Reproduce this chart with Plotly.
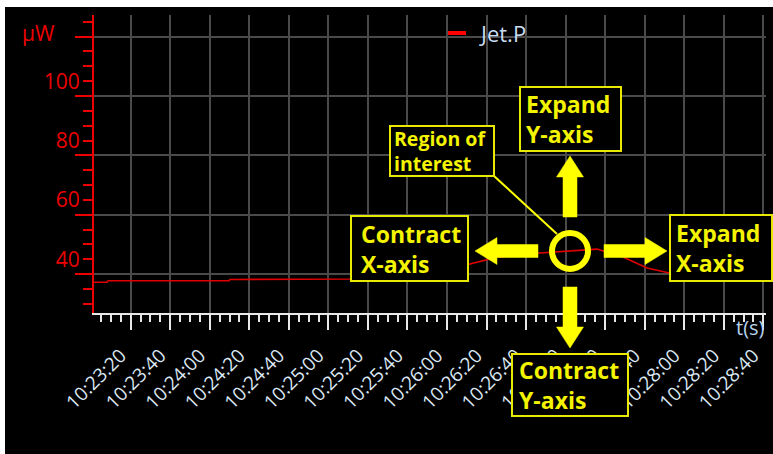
import plotly.graph_objects as go

# ---- data -------------------------------------------------------------
DAY = "2015-06-18 "

sample_times = [
    "10:23:06.4", "10:23:13.0", "10:23:13.5", "10:24:14.7", "10:24:15.2",
    "10:25:15.9", "10:25:40.0", "10:26:00.0", "10:26:16.6", "10:26:30.3",
    "10:26:52.0", "10:27:07.2", "10:27:20.9", "10:27:34.0", "10:27:46.2",
    "10:27:56.3", "10:28:13.0", "10:28:46.4",
]
jet_p_uw = [
    32.2, 32.2, 32.75, 32.75, 33.15,
    33.3, 33.8, 35.5, 38.4, 40.7,
    42.1, 42.9, 43.4, 40.7, 37.0,
    35.5, 34.8, 34.6,
]

time_labels = [
    "10:23:20", "10:23:40", "10:24:00", "10:24:20", "10:24:40", "10:25:00",
    "10:25:20", "10:25:40", "10:26:00", "10:26:20", "10:26:40", "10:27:00",
    "10:27:20", "10:27:40", "10:28:00", "10:28:20", "10:28:40",
]
power_labels = [40, 60, 80, 100]

x_range = [DAY + "10:23:06.44", DAY + "10:28:46.34"]
y_range = [21.86, 122.3]

# ---- geometry helpers (pixel -> paper) ---------------------------------
W, H = 773, 454
L, R, T, B = 94, 766, 15, 313


def fx(x):
    return (x - L) / (R - L)


def fy(y):
    return (B - y) / (B - T)


RED = "#ec0000"
GRID = "#4a4a4a"
LIGHT = "#dce8f5"
YEL = "#ffff00"
FONT = "Open Sans"

fig = go.Figure()
fig.add_trace(go.Scatter(
    x=[DAY + t for t in sample_times], y=jet_p_uw, mode="lines",
    name="Jet.P", line=dict(color="#e00000", width=1.6), showlegend=False,
))
# empty trace so the overlaid label axes get their own subplot
fig.add_trace(go.Scatter(x=[], y=[], xaxis="x2", yaxis="y2", showlegend=False))

fig.update_layout(
    width=W, height=H,
    margin=dict(l=L, r=W - R, t=T, b=H - B, pad=0),
    paper_bgcolor="black", plot_bgcolor="black",
    showlegend=False,
    xaxis=dict(
        type="date", range=x_range, tickmode="linear",
        tick0=DAY + "10:23:25", dtick=20000,
        ticks="outside", ticklen=15, tickwidth=2, tickcolor="#e8e8e8",
        showgrid=True, gridcolor=GRID, gridwidth=1.5,
        showticklabels=False, showline=True, linecolor="#e8e8e8", linewidth=2,
        zeroline=False,
        minor=dict(tick0=DAY + "10:23:25", dtick=5000, ticks="outside",
                   ticklen=7, tickwidth=2, tickcolor="#e8e8e8", showgrid=False),
    ),
    xaxis2=dict(
        type="date", range=x_range, overlaying="x", anchor="y", side="bottom",
        tickmode="array", tickvals=[DAY + t for t in time_labels],
        ticktext=time_labels, tickangle=-45,
        ticks="outside", ticklen=23, tickcolor="rgba(0,0,0,0)",
        tickfont=dict(family=FONT, size=19, color=LIGHT),
        showgrid=False, showline=False, zeroline=False,
    ),
    yaxis=dict(
        range=y_range, tickmode="linear", tick0=35, dtick=20,
        ticks="outside", ticklen=17, tickwidth=2, tickcolor=RED,
        showgrid=True, gridcolor=GRID, gridwidth=1.5,
        showticklabels=False, showline=True, linecolor=RED, linewidth=2,
        zeroline=False,
        minor=dict(tick0=35, dtick=5, ticks="outside", ticklen=9,
                   tickwidth=2, tickcolor=RED, showgrid=False),
    ),
    yaxis2=dict(
        range=y_range, overlaying="y", anchor="x", side="left",
        tickmode="array", tickvals=power_labels,
        ticktext=[str(v) for v in power_labels],
        ticks="outside", ticklen=9, tickcolor="rgba(0,0,0,0)",
        tickfont=dict(family=FONT, size=21, color=RED),
        showgrid=False, showline=False, zeroline=False,
    ),
)

shapes = []
# white frame strips along the left and top edges
shapes.append(dict(type="rect", xref="paper", yref="paper",
                   x0=fx(-2), x1=fx(5), y0=fy(H + 2), y1=fy(-2),
                   fillcolor="white", line_width=0))
shapes.append(dict(type="rect", xref="paper", yref="paper",
                   x0=fx(-2), x1=fx(W + 2), y0=fy(7), y1=fy(-2),
                   fillcolor="white", line_width=0))

# legend swatch
shapes.append(dict(type="line", xref="paper", yref="paper",
                   x0=fx(448), x1=fx(466), y0=fy(33), y1=fy(33),
                   line=dict(color="#ff0000", width=4)))


def poly(points):
    path = "M " + " L ".join(f"{fx(x):.5f},{fy(y):.5f}" for x, y in points) + " Z"
    return dict(type="path", xref="paper", yref="paper", path=path,
                fillcolor=YEL, line=dict(color=YEL, width=0.5))


cx, cy = 570, 251
# left, right, up, down arrows around the circle
shapes.append(poly([(538, cy - 6.5), (497, cy - 6.5), (497, cy - 13.5), (475, cy),
                    (497, cy + 13.5), (497, cy + 6.5), (538, cy + 6.5)]))
shapes.append(poly([(604, cy - 6.5), (645, cy - 6.5), (645, cy - 13.5), (667, cy),
                    (645, cy + 13.5), (645, cy + 6.5), (604, cy + 6.5)]))
shapes.append(poly([(cx - 7, 217), (cx - 7, 177), (cx - 13.5, 177), (cx, 156),
                    (cx + 13.5, 177), (cx + 7, 177), (cx + 7, 217)]))
shapes.append(poly([(cx - 7, 287), (cx - 7, 327), (cx - 13.5, 327), (cx, 348),
                    (cx + 13.5, 327), (cx + 7, 327), (cx + 7, 287)]))

# ring marking the region of interest
shapes.append(dict(type="circle", xref="paper", yref="paper",
                   x0=fx(cx - 18), x1=fx(cx + 18), y0=fy(cy + 18), y1=fy(cy - 18),
                   line=dict(color=YEL, width=6)))
# leader line from the callout to the ring
shapes.append(dict(type="line", xref="paper", yref="paper",
                   x0=fx(494), y0=fy(176), x1=fx(557), y1=fy(234),
                   line=dict(color=YEL, width=2)))

annotations = []


def callout(x0, y0, x1, y1, text, size, tx):
    shapes.append(dict(type="rect", xref="paper", yref="paper",
                       x0=fx(x0), x1=fx(x1), y0=fy(y1), y1=fy(y0),
                       fillcolor="black", line=dict(color="#e8e800", width=2)))
    annotations.append(dict(
        xref="paper", yref="paper", x=fx(tx), y=fy((y0 + y1) / 2),
        xanchor="left", yanchor="middle", align="left", showarrow=False,
        text=text, font=dict(family=FONT, size=size, color="#f4f400", weight="bold"),
    ))


callout(351, 216, 468, 281, "Contract<br>X-axis", 23, 359)
callout(670, 215, 772, 281, "Expand<br>X-axis", 23, 674)
callout(520, 87, 621, 151, "Expand<br>Y-axis", 23, 524)
callout(512, 354, 628, 416, "Contract<br>Y-axis", 23, 517)
callout(390, 126, 494, 176, "Region of<br>interest", 19.5, 392)

annotations.append(dict(xref="paper", yref="paper", x=fx(38), y=fy(33),
                        xanchor="center", yanchor="middle", showarrow=False,
                        text="µW", font=dict(family=FONT, size=21, color=RED)))
annotations.append(dict(xref="paper", yref="paper", x=fx(477), y=fy(33),
                        xanchor="left", yanchor="middle", showarrow=False,
                        text="Jet.P", font=dict(family=FONT, size=22, color="#c8dcf2")))
annotations.append(dict(xref="paper", yref="paper", x=fx(767), y=fy(327),
                        xanchor="right", yanchor="middle", showarrow=False,
                        text="t(s)", font=dict(family=FONT, size=20, color="#b8d2ee")))

fig.update_layout(shapes=shapes, annotations=annotations)
fig.write_html("out.html")
